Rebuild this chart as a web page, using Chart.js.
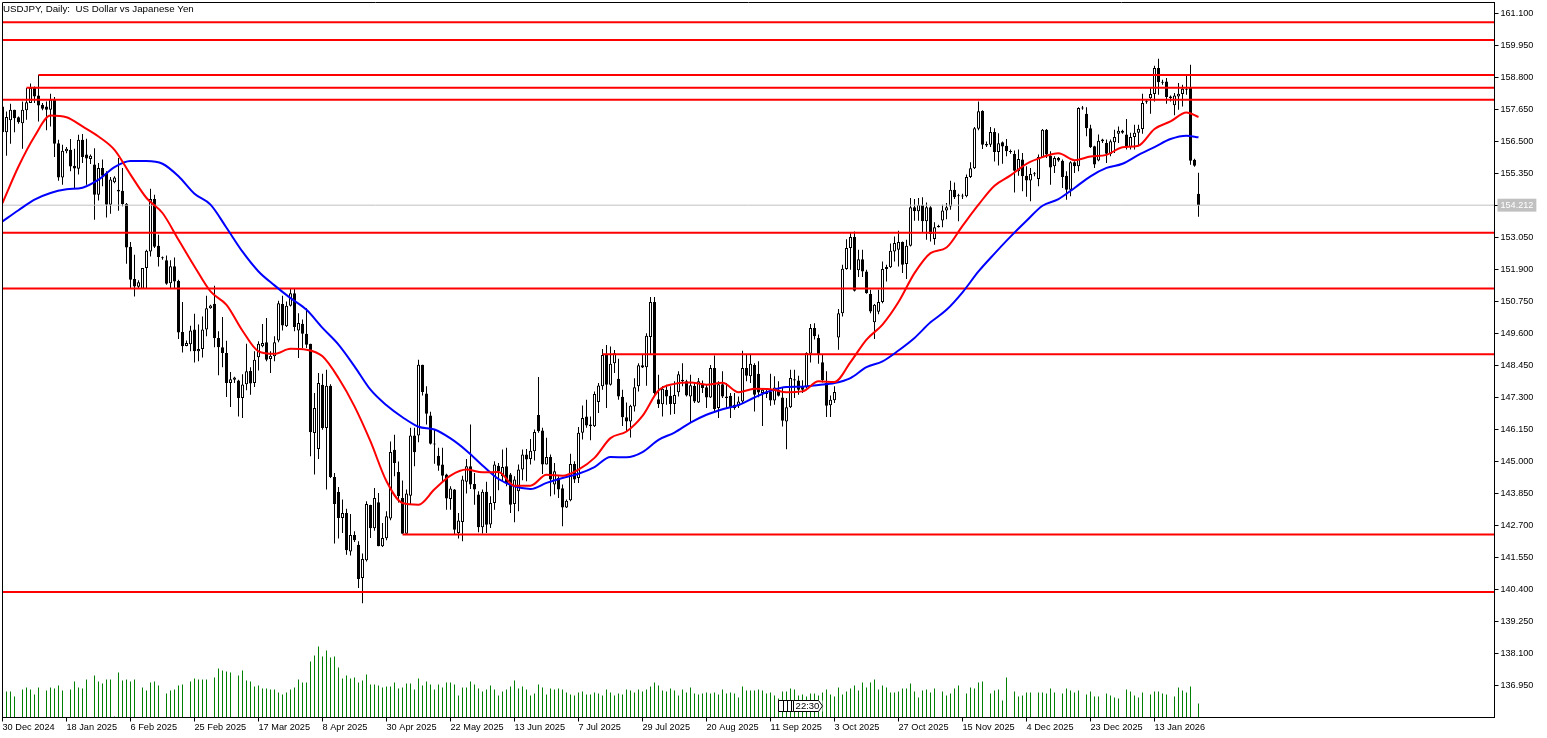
<!DOCTYPE html>
<html><head><meta charset="utf-8">
<style>html,body{margin:0;padding:0;background:#fff;overflow:hidden}canvas{display:block}</style>
<script src="https://cdn.jsdelivr.net/npm/chart.js@4"></script></head>
<body><div style="width:1547px;height:738px"><canvas id="c" width="1547" height="738"></canvas></div>
<script>
const highs=[157.82,157.58,157.86,157.64,157.40,157.94,158.42,158.58,158.48,158.90,
157.88,157.94,158.22,158.10,156.56,156.38,156.30,156.59,156.24,156.74,
156.77,156.60,156.03,156.26,155.73,155.85,155.43,155.22,155.25,155.91,
155.55,154.29,152.89,152.43,151.51,151.95,152.61,154.80,154.59,153.15,
152.37,152.40,152.23,152.33,151.53,150.73,149.35,149.88,150.31,149.92,
150.21,150.96,150.63,151.32,149.68,150.19,149.34,148.22,148.05,147.94,
148.14,149.23,148.39,148.96,149.32,149.94,150.16,148.96,149.50,150.78,
150.96,150.75,151.21,151.20,150.33,150.10,150.51,149.23,147.46,148.18,
148.15,148.30,147.78,144.59,144.08,143.63,143.30,143.11,142.49,142.13,
141.69,143.57,143.45,144.05,143.87,142.79,143.21,145.72,145.96,145.00,
144.32,143.99,146.21,146.21,148.66,148.48,147.70,146.79,146.15,145.49,
145.49,144.56,144.11,144.01,143.15,144.49,145.09,146.33,144.59,143.93,
143.99,144.27,143.75,145.01,144.95,145.43,145.49,144.59,144.47,144.89,
145.43,145.45,145.81,146.15,148.04,146.21,145.85,145.25,144.95,144.47,
144.17,143.63,145.28,145.01,146.24,147.01,147.22,146.62,147.52,147.82,
149.04,149.19,149.13,149.01,148.69,147.58,147.12,147.04,147.99,148.53,
148.83,149.61,150.91,150.91,148.12,147.70,147.76,147.70,147.88,148.24,
148.53,147.94,148.12,147.82,148.00,147.91,147.76,148.47,148.81,147.88,
148.24,147.82,147.46,147.46,147.34,148.98,148.83,148.83,148.53,148.60,
147.64,147.60,148.15,148.06,147.88,147.64,147.28,148.30,148.30,148.08,
147.92,148.93,149.94,149.97,149.56,148.84,148.24,147.37,147.70,150.48,
152.07,152.99,153.25,153.27,152.61,152.61,151.89,151.17,150.66,151.17,
152.19,152.07,152.83,153.09,153.29,152.91,152.97,154.47,154.43,154.47,
154.50,154.31,154.17,153.60,153.51,154.23,154.29,155.09,155.03,154.62,
154.62,155.31,155.75,157.02,157.94,157.62,156.50,157.02,156.98,156.80,
156.50,156.59,156.21,156.18,156.21,156.09,155.61,155.55,155.40,156.03,
156.95,156.95,156.15,155.97,155.94,155.85,155.43,155.79,155.79,157.73,
157.78,157.73,157.10,156.35,156.75,156.60,156.57,156.57,156.92,157.04,
156.92,157.31,156.81,157.10,157.10,158.22,158.03,158.42,159.22,159.47,
158.72,158.78,158.15,158.24,158.60,158.54,158.86,159.26,155.88,155.38];
const lows=[156.83,155.99,156.42,156.83,157.14,156.24,157.28,157.88,157.88,157.22,
157.62,156.90,157.04,155.94,155.09,154.95,156.08,155.43,154.79,155.31,
155.73,154.95,155.69,153.69,154.38,154.89,153.77,153.90,155.00,154.01,
154.17,152.11,151.21,150.93,151.23,151.21,151.23,152.37,152.67,152.01,
152.25,151.35,151.23,151.23,149.40,148.92,149.14,148.96,148.56,148.60,
148.74,149.50,150.49,149.11,148.10,148.39,147.32,146.96,147.82,146.62,
146.56,147.56,147.40,147.68,148.27,149.11,148.60,148.18,148.60,149.29,
149.71,149.83,150.57,149.68,148.72,149.08,149.08,145.19,144.53,145.09,
146.14,143.99,144.41,142.05,142.23,142.43,141.65,141.62,142.11,140.45,
139.91,141.41,142.25,142.51,141.95,141.93,142.17,142.89,144.47,143.53,
142.40,142.40,143.45,144.83,145.69,147.37,146.33,145.61,144.92,144.67,
144.29,143.27,143.27,142.37,142.23,142.13,143.85,144.01,143.45,142.46,
142.41,142.43,142.61,143.27,143.97,144.29,144.11,143.15,142.82,143.21,
144.33,144.29,144.89,145.04,146.03,144.55,144.89,143.75,143.81,143.69,
142.67,143.33,143.57,144.23,144.23,145.79,146.21,145.76,146.24,146.74,
147.58,146.92,147.73,148.18,147.22,146.28,146.08,145.86,146.80,147.52,
148.36,147.72,148.83,147.34,146.92,146.62,147.04,146.68,146.71,147.34,
147.70,147.34,146.40,147.10,147.10,147.46,146.92,147.28,146.74,146.56,
147.28,146.92,146.56,146.86,146.92,147.10,147.88,147.82,146.80,147.31,
146.28,147.28,147.00,147.04,147.34,146.26,145.44,146.92,147.28,147.40,
147.46,147.62,148.56,149.38,148.51,147.84,146.60,146.60,147.10,149.02,
150.21,151.89,151.89,151.11,151.63,151.63,151.03,150.33,149.40,150.29,
150.69,151.47,151.95,152.19,152.01,151.77,151.56,152.73,153.65,153.65,
153.21,152.97,152.91,152.79,153.41,153.42,153.71,154.05,154.43,153.63,
154.43,154.50,155.19,155.51,156.90,156.23,156.30,156.30,155.78,155.64,
155.70,155.97,156.06,154.67,155.27,154.71,154.51,154.35,155.25,154.89,
155.91,155.91,154.95,155.37,155.77,154.83,154.41,154.53,155.37,155.43,
157.64,156.69,156.27,155.55,155.79,156.45,155.73,155.97,156.09,156.45,
156.78,156.21,156.21,156.21,156.33,156.78,157.86,157.50,157.94,158.18,
158.54,157.86,157.94,157.44,157.64,157.76,158.18,155.66,155.59,153.80];
const opens=[157.76,156.83,157.26,157.64,157.37,157.16,157.62,157.88,158.42,158.15,
157.82,157.76,157.64,158.00,156.44,155.21,156.15,156.20,155.63,155.52,
156.56,156.03,155.87,155.67,154.59,155.55,155.37,154.23,155.04,154.77,
154.73,154.26,152.72,151.56,151.28,151.21,151.95,152.55,154.43,152.75,
152.32,152.23,151.41,152.02,151.49,149.65,149.15,149.21,149.74,148.96,
149.04,149.74,150.51,150.67,149.44,149.11,148.90,147.82,147.94,147.91,
147.28,147.78,148.25,147.82,148.75,149.14,149.29,148.68,148.78,149.35,
150.66,149.86,150.60,151.05,149.71,149.95,149.59,149.23,146.02,145.45,
147.76,146.20,147.72,144.44,143.90,142.97,143.15,141.77,142.36,142.01,
140.81,141.45,143.44,142.60,143.54,141.95,142.24,142.95,145.42,144.62,
143.69,142.40,143.77,145.93,145.93,148.48,147.44,146.65,145.64,145.21,
144.89,144.53,143.65,143.99,142.43,142.83,144.27,144.83,144.19,143.81,
142.64,143.91,142.74,143.51,144.85,144.47,144.83,144.53,143.47,143.93,
144.71,145.25,145.09,145.37,146.67,146.11,144.89,145.16,144.17,144.41,
144.04,143.35,143.61,144.91,144.41,146.03,146.62,146.33,146.27,147.14,
147.70,148.83,147.76,148.53,147.97,147.33,146.59,146.44,146.98,147.70,
148.46,148.39,149.47,150.73,147.24,147.06,147.58,147.36,147.07,147.49,
147.94,147.88,147.34,147.72,147.12,147.76,147.67,147.30,148.36,146.92,
147.78,147.34,147.36,147.04,147.00,147.16,148.36,148.06,148.47,148.15,
147.46,147.52,147.52,147.19,147.58,147.30,146.44,146.95,147.96,147.91,
147.68,147.68,148.87,149.80,149.44,148.57,147.82,147.02,147.20,149.46,
150.33,151.92,152.67,153.07,151.87,152.27,151.83,151.02,150.00,150.38,
150.73,151.92,151.98,152.55,152.61,152.89,152.10,152.75,154.14,153.99,
154.22,153.63,154.14,153.00,153.47,153.66,154.02,154.16,154.77,154.55,
154.52,154.53,155.22,155.54,156.96,157.60,156.41,156.38,156.84,156.12,
156.47,156.35,156.12,156.05,155.43,155.85,155.27,155.10,155.32,155.15,
155.94,156.92,155.99,155.61,155.91,155.81,155.27,154.77,155.75,155.61,
157.69,157.50,156.98,156.33,155.82,156.57,156.45,156.05,156.47,156.78,
156.89,156.75,156.30,156.66,156.81,156.95,157.91,158.05,158.21,159.14,
158.61,158.66,158.12,157.80,158.12,158.21,158.36,158.43,155.84,154.62];
const closes=[156.83,157.38,157.64,157.34,157.19,157.64,157.91,158.42,158.12,157.79,
157.68,157.64,158.00,156.42,155.21,156.17,156.24,155.60,155.53,156.56,
155.94,155.89,155.99,154.59,155.55,155.27,154.23,155.13,155.21,154.70,
154.25,152.69,151.53,151.29,151.44,151.95,152.57,154.43,152.72,152.35,
152.30,151.39,152.02,151.47,149.64,149.14,149.26,149.71,148.96,149.04,
149.74,150.51,150.61,149.44,149.11,148.90,147.82,147.96,148.02,147.28,
147.77,148.24,147.80,148.66,149.23,149.26,148.66,148.80,149.29,150.69,
149.89,150.60,151.05,149.83,149.98,149.59,149.20,146.05,146.92,147.82,
146.20,147.72,144.44,143.47,142.97,143.15,141.81,142.36,142.17,140.78,
141.50,143.47,142.60,143.69,141.95,142.25,143.03,145.34,144.95,143.75,
142.40,143.85,145.93,145.33,148.48,147.50,146.72,145.64,145.61,144.85,
144.49,143.67,144.03,142.55,142.88,144.35,144.83,144.17,143.99,142.64,
143.91,142.73,143.51,144.89,144.65,144.80,144.23,143.45,144.35,144.71,
145.25,145.07,145.39,146.06,146.09,144.89,145.16,144.35,144.65,143.99,
143.35,143.59,144.91,144.35,146.03,146.56,146.29,146.27,147.43,147.73,
148.83,147.76,148.51,148.89,147.34,146.59,146.44,147.00,147.67,148.46,
148.38,149.52,150.73,147.46,147.07,147.61,147.34,147.07,147.39,148.14,
147.88,147.37,147.74,147.16,147.88,147.64,147.30,148.36,146.89,147.78,
147.34,147.28,146.92,146.92,147.16,148.36,148.08,148.51,147.40,147.48,
147.58,147.43,147.19,147.66,147.36,146.46,146.95,148.00,147.91,147.58,
147.58,148.90,149.80,149.50,148.84,147.92,147.00,147.22,147.50,150.33,
151.93,152.67,153.07,151.14,152.27,151.83,151.05,150.39,150.63,150.73,
151.92,151.99,152.57,152.85,152.89,152.07,152.75,154.14,153.99,154.22,
153.63,154.14,153.18,153.42,153.42,154.02,154.14,154.77,154.50,154.53,
154.54,155.22,155.54,156.98,157.59,156.38,156.36,156.84,156.12,156.44,
156.32,156.15,156.16,155.45,155.87,155.25,155.10,155.33,155.34,155.94,
156.92,156.03,155.57,155.91,155.82,155.22,154.77,155.75,155.61,157.70,
157.72,156.98,156.29,155.67,156.53,156.51,156.06,156.51,156.66,156.89,
156.81,156.30,156.66,156.81,156.96,157.88,157.93,158.21,159.14,158.63,
158.64,158.10,158.06,158.15,158.22,158.40,158.40,155.81,155.63,154.21];
const volumes=[0,26,26,21,0,28,30,28,23,30,0,27,30,29,32,27,0,28,36,30,
29,38,0,42,36,34,38,38,1,45,37,38,36,38,0,30,27,35,36,32,
0,24,27,28,32,33,0,36,39,38,38,38,0,40,49,47,46,45,0,42,
47,37,36,31,32,29,29,28,28,25,23,25,28,30,38,35,35,56,62,71,
61,67,60,61,50,39,42,39,40,35,37,43,33,33,32,30,31,31,35,29,
30,34,34,28,39,32,36,33,28,33,30,35,35,33,22,30,30,36,33,29,
26,28,32,28,22,26,28,31,37,29,31,28,22,24,33,30,23,29,28,29,
28,25,23,22,25,26,23,23,25,24,22,28,25,22,24,23,28,27,25,28,
26,28,31,35,32,27,26,29,27,22,28,25,30,24,23,24,25,24,25,23,
28,24,25,24,20,31,27,27,27,28,27,24,25,22,19,26,26,29,28,22,
23,21,24,24,22,25,28,23,21,30,23,26,29,32,27,35,30,35,38,28,
32,30,25,25,26,29,29,34,26,20,27,28,25,29,0,26,22,24,29,32,
0,24,30,29,35,36,0,24,27,28,17,40,0,26,21,22,25,25,0,25,
25,24,29,25,0,24,29,27,25,27,0,23,26,21,21,0,24,22,20,19,
0,28,26,22,20,25,0,23,26,26,24,23,0,21,30,27,25,31,0,14];
const maIndex=[0,4,8,12,16,20,24,28,32,36,40,44,48,52,56,60,64,68,72,76,80,84,88,92,96,
100,104,108,112,116,120,124,128,132,136,140,144,148,152,156,160,164,168,172,176,180,184,188,192,196,
200,204,208,212,216,220,224,228,232,236,240,244,248,252,256,260,264,268,272,276,280,284,288,292,296,299];
const maFast=[154.29,155.60,156.68,157.43,157.37,157.04,156.68,156.20,155.31,154.47,153.93,152.97,152.01,151.11,150.63,149.70,148.96,148.87,149.05,149.02,148.78,148.00,146.98,145.72,144.29,
143.51,143.45,144.00,144.49,144.71,144.61,144.62,144.13,144.13,144.52,144.49,144.71,145.13,145.84,146.08,146.64,147.55,147.79,147.84,147.76,147.83,147.49,147.61,147.60,147.49,
147.52,147.88,147.86,148.57,149.38,149.92,150.73,151.77,152.49,152.69,153.47,154.23,154.91,155.28,155.70,155.94,156.08,155.83,155.96,156.02,156.29,156.35,156.95,157.22,157.54,157.38];
const maSlow=[153.63,154.03,154.41,154.65,154.78,154.84,155.13,155.58,155.80,155.80,155.70,155.25,154.62,154.23,153.40,152.54,151.83,151.33,150.87,150.45,149.80,149.20,148.42,147.58,147.02,
146.59,146.25,146.15,145.83,145.39,144.86,144.37,144.11,144.01,144.23,144.41,144.56,144.80,145.16,145.15,145.34,145.78,146.04,146.40,146.68,146.88,147.03,147.30,147.54,147.68,
147.69,147.75,147.82,148.00,148.39,148.60,148.99,149.44,150.00,150.45,151.08,151.83,152.47,153.08,153.65,154.19,154.43,154.83,155.25,155.55,155.70,156.02,156.30,156.59,156.71,156.65];
const levelPrices=[160.79,160.15,158.89,158.43,158.00,153.22,151.22,148.85,142.38,140.31];
const levelStarts=[0,0,9,6,0,0,0,150,100,0];
const currentPrice=154.212;
const priceTicks=[161.1,159.95,158.8,157.65,156.5,155.35,153.05,151.9,150.75,149.6,148.45,147.3,146.15,145,143.85,142.7,141.55,140.4,139.25,138.1,136.95];
const dateLabels=['30 Dec 2024','18 Jan 2025','6 Feb 2025','25 Feb 2025','17 Mar 2025','8 Apr 2025','30 Apr 2025','22 May 2025','13 Jun 2025','7 Jul 2025','29 Jul 2025','20 Aug 2025','11 Sep 2025','3 Oct 2025','27 Oct 2025','15 Nov 2025','4 Dec 2025','23 Dec 2025','13 Jan 2026'];
const headerText='USDJPY, Daily:  US Dollar vs Japanese Yen';
const timerText='22:30';

const FONT='"Liberation Sans"';
const BARS_PER_LABEL=16, X_MAX=373;
const idx=highs.map((_,i)=>i);
const lineBase={type:'line',pointRadius:0,pointHoverRadius:0,fill:false,tension:0,xAxisID:'x',yAxisID:'y'};
const datasets=[];
datasets.push({type:'bar',label:'Volume',data:idx.map(i=>({x:i,y:volumes[i]})),xAxisID:'x',yAxisID:'vol',
  backgroundColor:'#008000',barThickness:1,grouped:false,order:9,borderWidth:0,inflateAmount:0});
datasets.push({type:'bar',label:'Wick',data:idx.map(i=>({x:i,y:[lows[i],highs[i]]})),xAxisID:'x',yAxisID:'y',
  backgroundColor:'#000',barThickness:1,grouped:false,order:8,borderWidth:0,inflateAmount:0});
datasets.push({type:'bar',label:'Body',data:idx.map(i=>({x:i,y:[Math.min(opens[i],closes[i]),Math.max(opens[i],closes[i])]})),xAxisID:'x',yAxisID:'y',
  backgroundColor:idx.map(i=>closes[i]>opens[i]?'#fff':'#000'),borderColor:'#000',borderWidth:1,borderSkipped:false,
  barThickness:3,minBarLength:1,grouped:false,order:7,inflateAmount:0});
datasets.push({...lineBase,label:'Last',data:[{x:0,y:currentPrice},{x:X_MAX,y:currentPrice}],borderColor:'#c0c0c0',borderWidth:1,order:6});
levelPrices.forEach((p,k)=>datasets.push({...lineBase,label:'Level '+p,data:[{x:levelStarts[k],y:p},{x:X_MAX,y:p}],borderColor:'#ff0000',borderWidth:2,order:5}));
datasets.push({...lineBase,label:'MA slow',data:maIndex.map((x,k)=>({x,y:maSlow[k]})),borderColor:'#0000ff',borderWidth:2,cubicInterpolationMode:'monotone',order:4});
datasets.push({...lineBase,label:'MA fast',data:maIndex.map((x,k)=>({x,y:maFast[k]})),borderColor:'#ff0000',borderWidth:2,cubicInterpolationMode:'monotone',order:3});

const frame={id:'frame',afterDatasetsDraw(chart){
  const {ctx,chartArea:a}=chart;ctx.save();
  ctx.strokeStyle='#000';ctx.lineWidth=1;
  ctx.beginPath();ctx.moveTo(a.left,a.bottom);ctx.lineTo(a.left,a.top);ctx.lineTo(a.right,a.top);ctx.lineTo(a.right,a.bottom);ctx.lineTo(a.left,a.bottom);ctx.stroke();
  ctx.fillStyle='#000';ctx.font='9.75px '+FONT;ctx.textBaseline='middle';ctx.textAlign='left';
  ctx.fillText(headerText,3,9.5);
  const L=778.5,R=818.5,T=700.5,B=711.5;
  ctx.fillStyle='#fff';ctx.fillRect(L,T,R-L+4,B-T);
  ctx.beginPath();[L,L+5,L+9,L+13].forEach(x=>{ctx.moveTo(x,T);ctx.lineTo(x,B);});
  ctx.moveTo(L,T);ctx.lineTo(L+15,T);ctx.moveTo(L,B);ctx.lineTo(L+15,B);ctx.stroke();
  ctx.beginPath();ctx.moveTo(L+15,T);ctx.lineTo(R,T);ctx.lineTo(R+4,(T+B)/2);ctx.lineTo(R,B);ctx.lineTo(L+15,B);ctx.closePath();
  ctx.fillStyle='#fff';ctx.fill();ctx.stroke();
  ctx.fillStyle='#000';ctx.textAlign='center';ctx.font='9.5px '+FONT;ctx.fillText(timerText,(L+15+R+3)/2,(T+B)/2+.5);
  ctx.restore();
}};

new Chart(document.getElementById('c'),{
  type:'bar',
  data:{datasets},
  plugins:[frame],
  options:{
    responsive:false,animation:false,events:[],
    layout:{padding:{left:2.5,top:2.5,right:0,bottom:0}},
    plugins:{legend:{display:false},title:{display:false},tooltip:{enabled:false}},
    scales:{
      x:{type:'linear',position:'bottom',min:0,max:X_MAX,offset:false,
        border:{display:true,color:'#000'},
        grid:{offset:false,drawOnChartArea:false,drawTicks:true,tickLength:4,tickColor:'#000'},
        afterBuildTicks(s){s.ticks=dateLabels.map((_,k)=>({value:k*BARS_PER_LABEL}));},
        afterFit(s){s.height=20.5;s.paddingLeft=0;s.paddingRight=0;},
        ticks:{autoSkip:false,maxRotation:0,minRotation:0,align:'start',padding:0,color:'#000',font:{family:FONT,size:9.2},
          callback:v=>dateLabels[Math.round(v/BARS_PER_LABEL)]}},
      y:{type:'linear',position:'right',min:135.80,max:161.4953,
        border:{display:true,color:'#000'},
        grid:{drawOnChartArea:false,drawTicks:true,tickLength:4,tickColor:'#000'},
        afterBuildTicks(s){s.ticks=priceTicks.concat([currentPrice]).map(v=>({value:v}));},
        afterFit(s){s.width=52.5;s.paddingTop=0;s.paddingBottom=0;},
        ticks:{autoSkip:false,padding:2,font:{family:FONT,size:9.1},
          color:c=>c.tick.value===currentPrice?'#fff':'#000',
          showLabelBackdrop:c=>c.tick.value===currentPrice,
          backdropColor:'#c0c0c0',backdropPadding:{left:3,right:3,top:1,bottom:1},
          callback:v=>v.toFixed(3)}},
      vol:{type:'linear',display:false,min:0,max:715}
    }
  }
});
</script></body></html>
